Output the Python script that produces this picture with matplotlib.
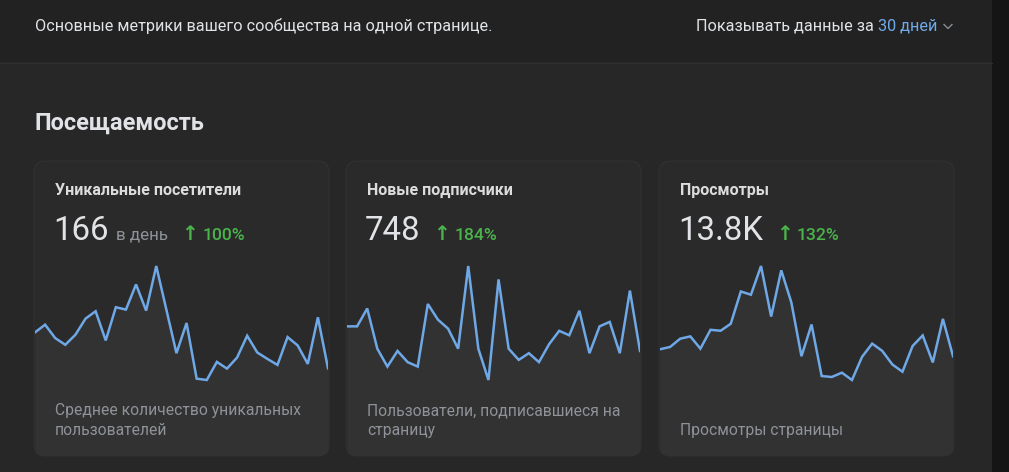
import matplotlib
matplotlib.use("Agg")
import matplotlib.pyplot as plt
from matplotlib.patches import FancyBboxPatch, Rectangle

# daily values for the last 30 days
days = list(range(1, 31))
unique_visitors = [178, 201, 161, 141, 171, 219, 241, 154, 253, 246,
                   321, 243, 376, 246, 116, 206, 40, 36, 90, 70,
                   103, 168, 118, 99, 81, 164, 139, 84, 223, 71]
new_subscribers = [29, 29, 37, 19, 11, 18, 13, 11, 39, 32,
                   28, 19, 56, 19, 5, 50, 19, 14, 17, 13,
                   21, 27, 25, 36, 17, 29, 31, 17, 45, 18]
page_views = [366, 385, 454, 473, 371, 528, 520, 578, 847, 820,
              1059, 638, 1023, 756, 308, 572, 143, 135, 171, 110,
              303, 413, 352, 239, 179, 393, 481, 256, 619, 308]

series = [unique_visitors, new_subscribers, page_views]
card_titles = ["Уникальные посетители", "Новые подписчики", "Просмотры"]
card_values = ["166", "748", "13.8K"]
card_units = ["в день", "", ""]
card_changes = ["100%", "184%", "132%"]
card_notes = [["Среднее количество уникальных", "пользователей"],
              ["Пользователи, подписавшиеся на", "страницу"],
              ["", "Просмотры страницы"]]

W, H = 1009, 472
PX = 0.72  # pixels -> points at dpi 100
FONT = ["Roboto", "DejaVu Sans"]

white = "#e1e3e6"
gray = "#8f9399"
blue = "#71aaeb"
green = "#4bb34b"
line_blue = "#6fa8e6"

fig = plt.figure(figsize=(W / 100, H / 100), dpi=100)
fig.patch.set_facecolor("#272727")

bg = fig.add_axes([0, 0, 1, 1])
bg.set_xlim(0, W)
bg.set_ylim(H, 0)
bg.axis("off")

# page background, header and right strip
bg.add_patch(Rectangle((0, 0), 992, 62, color="#222222", lw=0))
bg.add_patch(Rectangle((0, 62), 992, H - 62, color="#272727", lw=0))
bg.plot([0, 992], [62.5, 62.5], color="#303030", lw=1.2 * PX)
bg.add_patch(Rectangle((992, 0), W - 992, H, color="#151515", lw=0))

card_left = [34, 346, 659]
card_top, card_bottom, card_w = 161, 456, 295
r = 11

# text layer on top of everything
tx = fig.add_axes([0, 0, 1, 1])
tx.set_xlim(0, W)
tx.set_ylim(H, 0)
tx.axis("off")
tx.patch.set_alpha(0)
tx.set_zorder(10)

renderer = fig.canvas.get_renderer()

for i in range(3):
    cx = card_left[i]
    card = FancyBboxPatch((cx + r, card_top + r), card_w - 2 * r,
                          card_bottom - card_top - 2 * r,
                          boxstyle=f"round,pad={r}", fc="#2a2a2a",
                          ec="#323232", lw=1.0 * PX)
    bg.add_patch(card)

    # sparkline: max at y=266, min at y=380, fill down to the card bottom
    vals = series[i]
    vmin, vmax = min(vals), max(vals)
    span = vmax - vmin
    ax_top, ax_bottom = 256, card_bottom
    lo = vmin - span * (ax_bottom - 380) / (380 - 266)
    hi = vmax + span * (266 - ax_top) / (380 - 266)
    x0, x1 = cx + 1, cx + card_w - 1
    ax = fig.add_axes([x0 / W, (H - ax_bottom) / H, (x1 - x0) / W,
                       (ax_bottom - ax_top) / H])
    ax.set_xlim(days[0], days[-1])
    ax.set_ylim(lo, hi)
    ax.axis("off")
    ax.patch.set_alpha(0)
    fill = ax.fill_between(days, vals, lo, color="#323232", lw=0)
    fill.set_clip_path(card)
    ln, = ax.plot(days, vals, color=line_blue, lw=2.5 * PX,
                  solid_joinstyle="miter")
    ln.set_clip_path(card)

    # texts
    tx.text(cx + 21, 195, card_titles[i], color="#dcdcdc", fontsize=16 * PX,
            fontweight="bold", family=FONT, va="baseline")
    num = tx.text(cx + 19, 240, card_values[i], color=white,
                  fontsize=33 * PX, family=FONT, va="baseline")
    right = num.get_window_extent(renderer).x1
    if card_units[i]:
        unit = tx.text(right + 8, 240, card_units[i], color=gray,
                       fontsize=17 * PX, family=FONT, va="baseline")
        right = unit.get_window_extent(renderer).x1
    arrow = tx.text(right + 13, 240, "↑", color=green, fontsize=20 * PX,
                    fontweight="bold", family="DejaVu Sans", va="baseline")
    right = arrow.get_window_extent(renderer).x1
    tx.text(right + 4, 240, card_changes[i], color=green,
            fontsize=17.5 * PX, fontweight="medium", family=FONT,
            va="baseline")
    for k, note in enumerate(card_notes[i]):
        tx.text(cx + 21, 415 + 20 * k, note, color=gray, fontsize=15.6 * PX,
                family=FONT, va="baseline")

# header
tx.text(35, 30.5, "Основные метрики вашего сообщества на одной странице.",
        color=white, fontsize=16.2 * PX, family=FONT, va="baseline")
days_txt = tx.text(937, 30.5, "30 дней", color=blue, fontsize=16.2 * PX,
                   family=FONT, va="baseline", ha="right")
left = days_txt.get_window_extent(renderer).x0
tx.text(left - 4, 30.5, "Показывать данные за", color=white,
        fontsize=16.2 * PX, family=FONT, va="baseline", ha="right")
tx.plot([944, 948, 952], [24.5, 28.5, 24.5], color=gray, lw=1.3 * PX)

tx.text(35, 130, "Посещаемость", color=white, fontsize=23.5 * PX,
        fontweight="bold", family=FONT, va="baseline")

fig.savefig("out.png", dpi=100, facecolor=fig.get_facecolor())
